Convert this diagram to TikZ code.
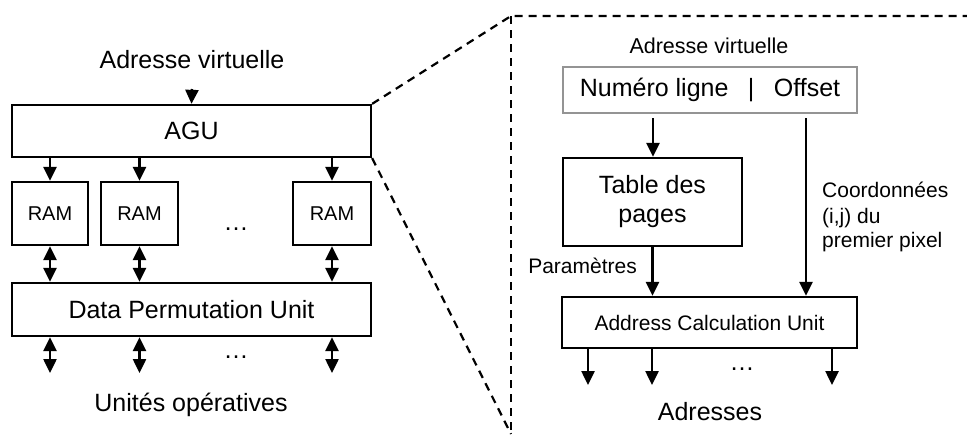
\documentclass[tikz,border=0pt]{standalone}
\usepackage{fontspec}
\setmainfont{Liberation Sans}
\usetikzlibrary{arrows.meta}
\begin{document}
\begin{tikzpicture}[x=1pt,y=-1pt,
  blk/.style={draw, line width=2.3pt, rectangle, inner sep=0pt},
  gblk/.style={draw=black!42, line width=2pt, rectangle, inner sep=0pt},
  big/.style={font=\fontsize{25}{29}\selectfont},
  mid/.style={font=\fontsize{21}{25}\selectfont},
  sml/.style={font=\fontsize{20}{24}\selectfont},
  tip/.style={Triangle[length=14pt,width=13pt]},
  arr/.style={line width=2.5pt, -{Triangle[length=14pt,width=13pt]}},
  darr/.style={line width=2.5pt, {Triangle[length=14pt,width=13pt]}-{Triangle[length=14pt,width=13pt]}},
  zoomline/.style={line width=2.2pt, dash pattern=on 8pt off 6pt}]
\useasboundingbox (0,0) rectangle (967,434);

% ---------- left part ----------
\node[big] (av1) at (192,60) {Adresse virtuelle};
\coordinate (av1a) at (192,89);
\node[blk, big, minimum width=359pt, minimum height=52pt] (agu) at (191.5,131) {AGU};
\node[blk, sml, minimum width=76pt, minimum height=63pt] (ram1) at (50,213.5) {RAM};
\node[blk, sml, minimum width=77pt, minimum height=63pt] (ram2) at (139.5,213.5) {RAM};
\node[blk, sml, minimum width=78pt, minimum height=63pt] (ram3) at (332,213.5) {RAM};
\node[big] (dots1) at (236,229) {…};
\node[blk, big, minimum width=359pt, minimum height=53pt] (dpu) at (191.5,309.5) {Data Permutation Unit};
\node[big] (dots2) at (236,357) {…};
\coordinate (o1) at (50,373);
\coordinate (o2) at (139.5,373);
\coordinate (o3) at (332,373);
\node[big] (uo) at (191,405) {Unités opératives};

\draw[arr] (av1a) -- (agu.north);
\foreach \r in {ram1,ram2,ram3}{
  \draw[arr] (\r.north |- agu.south) -- (\r.north);
  \draw[darr] (\r.south) -- (\r.south |- dpu.north);
}
\foreach \o in {o1,o2,o3}{
  \draw[darr] (\o |- dpu.south) -- (\o);
}

% ---------- zoom lines ----------
\coordinate (zc) at (511,16);
\coordinate (zr) at (967,16);
\coordinate (zb) at (511,434);
\draw[zoomline] (agu.north east) -- (zc) -- (zr);
\draw[zoomline] (zc) -- (zb);
\draw[zoomline] (agu.south east) -- (zb);

% ---------- right part ----------
\node[font=\fontsize{21.5}{25}\selectfont] (av2) at (709,46) {Adresse virtuelle};
\node[gblk, big, minimum width=294pt, minimum height=46pt] (nl) at (710,90) {Numéro ligne \hspace{0.5em}|\hspace{0.5em} Offset};
\coordinate (s1) at (653,118);
\coordinate (s2) at (806,118);
\node[blk, big, align=center, minimum width=179pt, minimum height=88pt] (tdp) at (652.5,202) {Table des\\pages};
\node[blk, mid, minimum width=295pt, minimum height=51pt] (acu) at (709.5,322.5) {Address Calculation Unit};
\node[mid, anchor=base west, inner sep=0pt] (c1) at (822,197) {Coordonnées};
\node[mid, anchor=base west, inner sep=0pt] (c2) at (822,223) {(i,j) du};
\node[mid, anchor=base west, inner sep=0pt] (c3) at (822,247) {premier pixel};
\node[mid, anchor=base east, inner sep=0pt] (par) at (637,273) {Paramètres};
\node[big] (dots3) at (742,369) {…};
\coordinate (a1) at (588,385);
\coordinate (a2) at (652,385);
\coordinate (a3) at (832,385);
\node[big] (adr) at (710,412) {Adresses};

\draw[arr] (s1) -- (s1 |- tdp.north);
\draw[arr] (s2) -- (s2 |- acu.north);
\draw[arr] (tdp.south) -- (tdp.south |- acu.north);
\foreach \a in {a1,a2,a3}{
  \draw[arr] (\a |- acu.south) -- (\a);
}
\end{tikzpicture}
\end{document}
